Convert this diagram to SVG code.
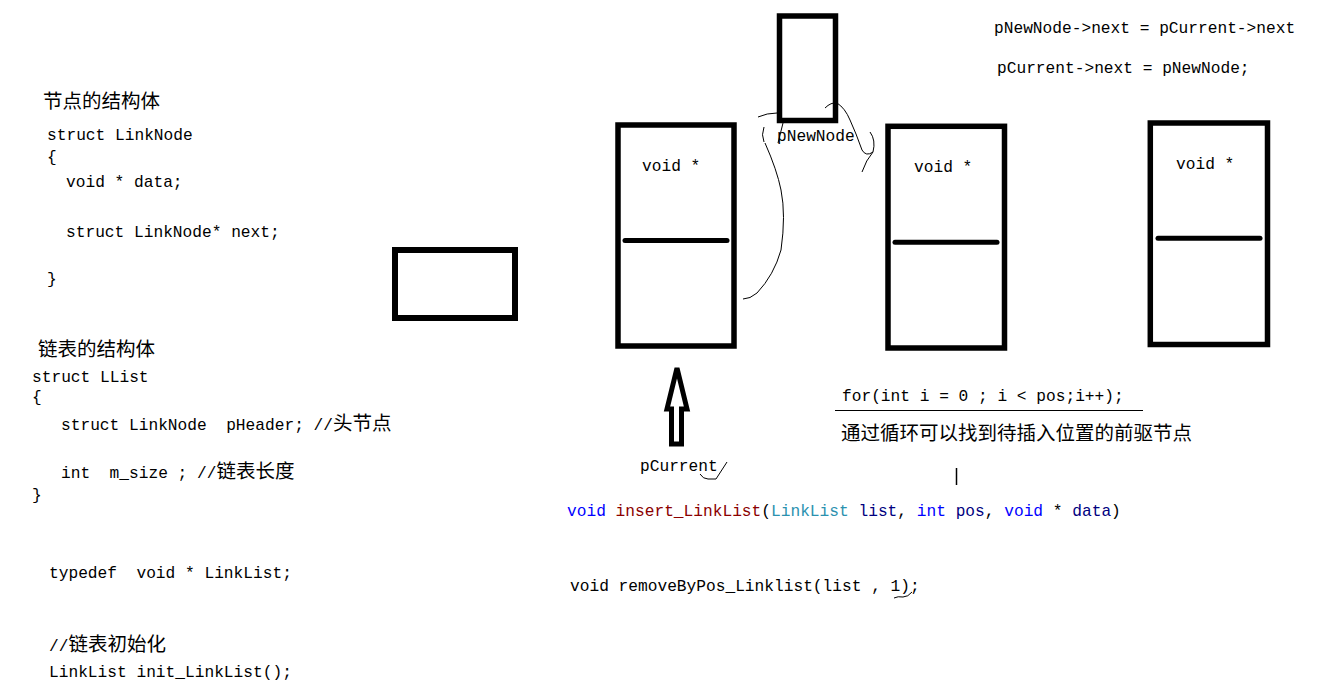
<svg xmlns="http://www.w3.org/2000/svg" width="1323" height="696" viewBox="0 0 1323 696">
<style>
.t{font-family:"Liberation Mono","Noto Sans CJK SC",monospace;font-size:16.2px;fill:#000}
.c{font-family:"Noto Sans CJK SC",sans-serif;font-size:19.5px}
.box{fill:#fff;stroke:#000;stroke-width:5.5}
.div{stroke:#000;stroke-width:5;stroke-linecap:round}
.hand{fill:none;stroke:#000;stroke-width:1}
.kw{fill:#0000ff}.fn{fill:#8b0000}.ty{fill:#2b91af}.pa{fill:#000080}
</style>
<rect width="1323" height="696" fill="#fff"/>

<g id="text-left">
<text class="t" x="43" y="108"><tspan class="c">节点的结构体</tspan></text>
<text class="t" x="47" y="140">struct LinkNode</text>
<text class="t" x="47" y="162">{</text>
<text class="t" x="66" y="187">void * data;</text>
<text class="t" x="66" y="237">struct LinkNode* next;</text>
<text class="t" x="47" y="284">}</text>
<text class="t" x="38" y="356"><tspan class="c">链表的结构体</tspan></text>
<text class="t" x="32" y="382">struct LList</text>
<text class="t" x="32" y="402">{</text>
<text class="t" x="61" y="430" xml:space="preserve">struct LinkNode  pHeader; //<tspan class="c">头节点</tspan></text>
<text class="t" x="61" y="478" xml:space="preserve">int  m_size ; //<tspan class="c">链表长度</tspan></text>
<text class="t" x="32" y="500">}</text>
<text class="t" x="49" y="578" xml:space="preserve">typedef  void * LinkList;</text>
<text class="t" x="49" y="651">//<tspan class="c">链表初始化</tspan></text>
<text class="t" x="49" y="677">LinkList init_LinkList();</text>
</g>

<g id="node-small">
<rect class="box" x="395" y="250" width="120" height="68" style="stroke-width:6"/>
</g>

<g id="node-1">
<rect class="box" x="618" y="125" width="116" height="221"/>
<line class="div" x1="625" y1="240.5" x2="727" y2="240.5"/>
<text class="t" x="642" y="171">void *</text>
</g>

<g id="node-new">
<rect class="box" x="779.5" y="16" width="56" height="104.5"/>
<text class="t" x="777" y="141">pNewNode</text>
</g>

<g id="node-3">
<rect class="box" x="888" y="126.3" width="116.5" height="221.7"/>
<line class="div" x1="895" y1="242.3" x2="997" y2="242.3"/>
<text class="t" x="914" y="172">void *</text>
</g>

<g id="node-4">
<rect class="box" x="1150.3" y="123" width="117.2" height="221.5"/>
<line class="div" x1="1158" y1="238.3" x2="1260" y2="238.3"/>
<text class="t" x="1176" y="169">void *</text>
</g>

<g id="pointer-arrow">
<polygon points="677,368 687,409 681.5,409 681.5,444 671.5,444 671.5,409 667,409" fill="#fff" stroke="#000" stroke-width="5" stroke-linejoin="miter"/>
<text class="t" x="640" y="471">pCurrent</text>
</g>

<g id="connectors">
<path class="hand" d="M758,117 Q767,113 777,113"/>
<path class="hand" d="M764,127 Q761,135 764,142"/>
<path class="hand" d="M765,143 Q777,170 781,190 Q786,215 781,250 Q774,275 757,293 Q750,299 743,299"/>
<path class="hand" d="M783,123 L778,143"/>
<path class="hand" d="M825,108 Q831,102 837,103 Q845,108 850,120 Q856,133 862,150 Q866,157 873,152"/>
<path class="hand" d="M870,132 Q876,140 873,152 Q866,160 862,172"/>
<path class="hand" d="M700,474 Q703,479 708,479 L716,479 L727,462"/>
<path class="hand" d="M894,598 Q898,596 903,597 Q908,597 912,592"/>
</g>

<g id="text-right">
<text class="t" x="994" y="33">pNewNode-&gt;next = pCurrent-&gt;next</text>
<text class="t" x="997" y="73">pCurrent-&gt;next = pNewNode;</text>
<text class="t" x="842" y="401">for(int i = 0 ; i &lt; pos;i++);</text>
<line x1="835" y1="410.5" x2="1143" y2="410.5" stroke="#000" stroke-width="1"/>
<text class="t" x="841" y="440"><tspan class="c">通过循环可以找到待插入位置的前驱节点</tspan></text>
<line x1="956.5" y1="468" x2="956.5" y2="485" stroke="#000" stroke-width="1.5"/>
<text class="t" x="567" y="516" xml:space="preserve"><tspan class="kw">void</tspan> <tspan class="fn">insert_LinkList</tspan>(<tspan class="ty">LinkList</tspan> <tspan class="pa">list</tspan>, <tspan class="kw">int</tspan> <tspan class="pa">pos</tspan>, <tspan class="kw">void</tspan> * <tspan class="pa">data</tspan>)</text>
<text class="t" x="570" y="591">void removeByPos_Linklist(list , 1);</text>
</g>
</svg>
